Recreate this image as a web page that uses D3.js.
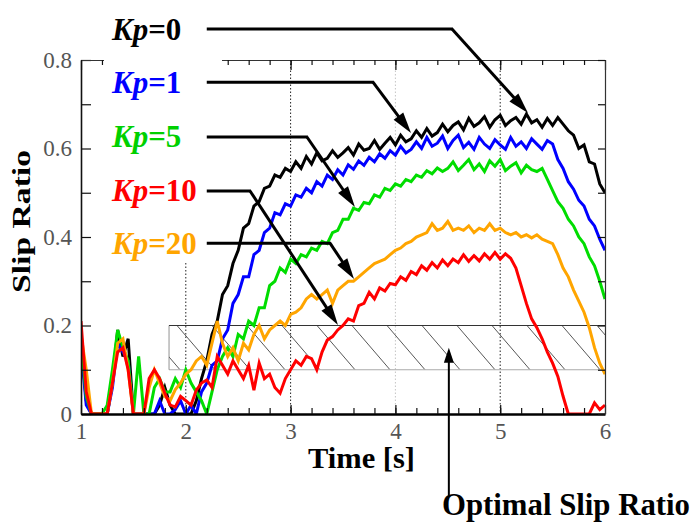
<!DOCTYPE html>
<html>
<head>
<meta charset="utf-8">
<script src="https://cdn.jsdelivr.net/npm/d3@7"></script>
<style>
  html, body { margin: 0; padding: 0; background: #fff; }
  svg { display: block; }
  text { font-family: "Liberation Serif", "Times New Roman", serif; }
</style>
</head>
<body>
<div id="chart"></div>
<script>
// sampling of the recorded slip ratio traces
const timeStart = 1;
const timeStep = 0.05;

const xTicks = [1, 2, 3, 4, 5, 6];
const yTicks = [0, 0.2, 0.4, 0.6, 0.8];
const yMinorTicks = [0.1, 0.3, 0.5, 0.7];
const gridTimes = [2, 3, 4, 5];

// optimal slip band
const bandLow = 0.1;
const bandHigh = 0.2;
const bandStart = 1.84;

const kp0 = [
  0.17, 0.03, 0, 0, 0, 0, 0.07, 0.19, 0.13, 0.17,
  0, 0, 0, 0, 0, 0.02, 0.06, 0.02, 0, 0,
  0, 0, 0.03, 0.08, 0.12, 0.18, 0.21, 0.27, 0.29, 0.34,
  0.37, 0.42, 0.43, 0.47, 0.48, 0.51, 0.515, 0.54, 0.535, 0.555,
  0.548, 0.57, 0.555, 0.582, 0.565, 0.59, 0.572, 0.578, 0.595, 0.58,
  0.59, 0.602, 0.585, 0.61, 0.596, 0.6, 0.618, 0.598, 0.612, 0.625,
  0.608, 0.63, 0.615, 0.622, 0.64, 0.625, 0.645, 0.628, 0.636, 0.655,
  0.638, 0.652, 0.66, 0.642, 0.668, 0.65, 0.658, 0.672, 0.648, 0.665,
  0.675, 0.652, 0.663, 0.67, 0.655, 0.678, 0.658, 0.665, 0.648, 0.668,
  0.652, 0.67, 0.655, 0.64, 0.63, 0.6, 0.608, 0.57, 0.565, 0.52,
  0.50
];
const kp1 = [
  0.15, 0.02, 0, 0, 0, 0, 0.06, 0.16, 0.14, 0.12,
  0, 0, 0, 0, 0, 0.03, 0, 0, 0.01, 0.03,
  0, 0.02, 0, 0.05, 0.07, 0.11, 0.12, 0.17, 0.19, 0.25,
  0.27, 0.31, 0.31, 0.36, 0.37, 0.41, 0.42, 0.455, 0.45, 0.475,
  0.47, 0.495, 0.49, 0.51, 0.5, 0.525, 0.515, 0.54, 0.53, 0.552,
  0.54, 0.563, 0.553, 0.572, 0.562, 0.58, 0.57, 0.588, 0.578, 0.595,
  0.585, 0.605, 0.59, 0.598, 0.615, 0.6, 0.625, 0.605, 0.612, 0.628,
  0.6, 0.618, 0.63, 0.602, 0.614, 0.598, 0.625, 0.61, 0.6, 0.62,
  0.608, 0.598, 0.625, 0.605, 0.615, 0.6, 0.622, 0.61, 0.598, 0.618,
  0.61, 0.575, 0.555, 0.525, 0.508, 0.483, 0.47, 0.44, 0.425, 0.395,
  0.37
];
const kp5 = [
  0.17, 0.04, 0, 0, 0, 0.02, 0.1, 0.19, 0.15, 0.12,
  0, 0.13, 0, 0, 0.06, 0.08, 0.05, 0.05, 0.08, 0.06,
  0.1, 0.07, 0.05, 0.03, 0, 0.05, 0.1, 0.13, 0.15, 0.13,
  0.18, 0.17, 0.21, 0.2, 0.24, 0.24, 0.29, 0.3, 0.33, 0.32,
  0.35, 0.34, 0.36, 0.355, 0.375, 0.37, 0.39, 0.385, 0.41, 0.415,
  0.44, 0.44, 0.465, 0.46, 0.478, 0.475, 0.495, 0.49, 0.51, 0.505,
  0.52, 0.515, 0.53, 0.525, 0.54, 0.535, 0.55, 0.543, 0.556, 0.548,
  0.555, 0.57, 0.55, 0.562, 0.575, 0.552, 0.565, 0.548, 0.572, 0.56,
  0.575, 0.55, 0.56, 0.568, 0.545, 0.562, 0.552, 0.548, 0.555, 0.53,
  0.505, 0.48, 0.465, 0.44, 0.425, 0.4, 0.385, 0.355, 0.335, 0.3,
  0.26
];
const kp10 = [
  0.21, 0.05, 0, 0, 0, 0, 0.07, 0.14, 0.15, 0.1,
  0, 0, 0, 0.08, 0.1, 0.08, 0.047, 0.02, 0.016, 0.04,
  0.03, 0.02, 0.054, 0.07, 0.077, 0.06, 0.13, 0.11, 0.09, 0.12,
  0.1, 0.08, 0.11, 0.054, 0.115, 0.08, 0.09, 0.06, 0.047, 0.08,
  0.1, 0.12, 0.11, 0.13, 0.125, 0.1, 0.14, 0.167, 0.175, 0.19,
  0.2, 0.215, 0.21, 0.245, 0.25, 0.275, 0.26, 0.285, 0.278, 0.295,
  0.292, 0.31, 0.302, 0.322, 0.315, 0.335, 0.325, 0.342, 0.33, 0.348,
  0.335, 0.35, 0.342, 0.36, 0.345, 0.358, 0.346, 0.362, 0.35, 0.365,
  0.35, 0.362, 0.352, 0.33, 0.29, 0.25, 0.215, 0.195, 0.17, 0.14,
  0.115, 0.085, 0.04, 0, 0, 0, 0, 0, 0.025, 0.01,
  0.02
];
const kp20 = [
  0.18, 0.1, 0, 0, 0, 0, 0.07, 0.16, 0.17, 0.1,
  0, 0, 0, 0.06, 0.1, 0.07, 0.04, 0.03, 0.055, 0.07,
  0.09, 0.1, 0.12, 0.13, 0.11, 0.16, 0.21, 0.16, 0.13, 0.15,
  0.12, 0.16, 0.145, 0.18, 0.2, 0.17, 0.19, 0.2, 0.21, 0.2,
  0.225, 0.23, 0.24, 0.26, 0.27, 0.26, 0.27, 0.28, 0.25, 0.28,
  0.29, 0.3, 0.3, 0.31, 0.32, 0.33, 0.34, 0.345, 0.35, 0.36,
  0.37, 0.375, 0.385, 0.39, 0.4, 0.405, 0.41, 0.43, 0.415, 0.42,
  0.435, 0.415, 0.42, 0.415, 0.425, 0.41, 0.42, 0.415, 0.43, 0.415,
  0.42, 0.41, 0.405, 0.41, 0.4, 0.405, 0.398, 0.405, 0.395, 0.39,
  0.385, 0.36, 0.33, 0.31, 0.28, 0.255, 0.23, 0.195, 0.15, 0.115,
  0.09
];

const gains = ['0', '1', '5', '10', '20'];
const seriesColors = ['#000000', '#0000ff', '#00dd00', '#ff0000', '#ffa500'];
const labelColors = ['#000000', '#0000ff', '#00d000', '#ff0000', '#ffa500'];
// leader lines: label level, elbow time, arrow tip (time, slip)
const labelLevels = [0.87, 0.75, 0.626, 0.504, 0.386];
const elbowTimes = [4.54, 3.786, 3.156, 2.613, 3.376];
const tipTimes = [5.265, 4.149, 3.614, 3.452, 3.605];
const tipValues = [0.68, 0.635, 0.468, 0.201, 0.305];
const leaderStart = 2.2;
const optimalArrowTime = 4.51;

const width = 693, height = 527;

const svg = d3.select('#chart').append('svg')
  .attr('width', width)
  .attr('height', height);

const x = d3.scaleLinear().domain([1, 6]).range([81, 605]);
const y = d3.scaleLinear().domain([0, 0.8]).range([414, 60]);

svg.append('defs').append('clipPath').attr('id', 'plotClip')
  .append('rect')
  .attr('x', x(1)).attr('y', y(0.8))
  .attr('width', x(6) - x(1)).attr('height', y(0) - y(0.8));

svg.select('defs').append('clipPath').attr('id', 'bandClip')
  .append('rect')
  .attr('x', x(bandStart)).attr('y', y(bandHigh))
  .attr('width', x(6) - x(bandStart)).attr('height', y(bandLow) - y(bandHigh));

// dotted grid
svg.append('g').selectAll('line')
  .data(gridTimes)
  .enter()
  .append('line')
  .attr('x1', d => x(d)).attr('x2', d => x(d))
  .attr('y1', y(0.8)).attr('y2', y(0))
  .attr('stroke', d => d === 4 ? '#c4c4c4' : '#222')
  .attr('stroke-width', 1)
  .attr('stroke-dasharray', '1.5,2');

// hatched band
const band = svg.append('g');
band.append('g').attr('clip-path', 'url(#bandClip)')
  .selectAll('line')
  .data(d3.range(0, 18))
  .enter()
  .append('line')
  .attr('x1', k => 72 + 35 * k).attr('y1', y(bandHigh))
  .attr('x2', k => 110 + 35 * k).attr('y2', y(bandLow))
  .attr('stroke', '#444')
  .attr('stroke-width', 0.9);
band.append('line')
  .attr('x1', x(bandStart)).attr('x2', x(6))
  .attr('y1', y(bandLow)).attr('y2', y(bandLow))
  .attr('stroke', '#aaa').attr('stroke-width', 1);
band.append('line')
  .attr('x1', x(bandStart)).attr('x2', x(bandStart))
  .attr('y1', y(bandHigh)).attr('y2', y(bandLow))
  .attr('stroke', '#777').attr('stroke-width', 0.8);
band.append('line')
  .attr('x1', x(bandStart)).attr('x2', x(6))
  .attr('y1', y(bandHigh)).attr('y2', y(bandHigh))
  .attr('stroke', '#333').attr('stroke-width', 1);

// traces, red drawn last as in the original
const line = d3.line()
  .x((d, i) => x(timeStart + i * timeStep))
  .y(d => y(d));

const traces = [kp0, kp1, kp5, kp20, kp10];
const traceColors = [seriesColors[0], seriesColors[1], seriesColors[2], seriesColors[4], seriesColors[3]];

svg.append('g').attr('clip-path', 'url(#plotClip)')
  .selectAll('path')
  .data(traces)
  .enter()
  .append('path')
  .attr('d', line)
  .attr('fill', 'none')
  .attr('stroke', (d, i) => traceColors[i])
  .attr('stroke-width', 3)
  .attr('stroke-linejoin', 'miter');

// axes
const styleAxis = function (g, labelled) {
  g.selectAll('.tick line').attr('stroke', '#111').attr('stroke-width', 1.2);
  g.selectAll('.tick text')
    .attr('fill', labelled ? '#555' : 'none')
    .style('font-size', '23px')
    .style('font-family', '"Liberation Serif", serif');
};

const gLeft = svg.append('g').attr('transform', `translate(${x(1)},0)`)
  .call(d3.axisLeft(y).tickValues(yTicks).tickSize(-10).tickSizeOuter(0).tickPadding(9)
    .tickFormat(d => d === 0 ? '0' : d3.format('.1f')(d)));
styleAxis(gLeft, true);
gLeft.select('.domain').attr('stroke', '#111').attr('stroke-width', 1.6);
svg.append('g').attr('transform', `translate(${x(1)},0)`)
  .call(d3.axisLeft(y).tickValues(yMinorTicks).tickSize(-10).tickFormat(''))
  .call(g => g.select('.domain').remove())
  .call(g => styleAxis(g, false));

const gBottom = svg.append('g').attr('transform', `translate(0,${y(0)})`)
  .call(d3.axisBottom(x).tickValues(xTicks).tickSize(-9).tickSizeOuter(0).tickPadding(9)
    .tickFormat(d3.format('d')));
styleAxis(gBottom, true);
svg.append('g').attr('transform', `translate(0,${y(0)})`)
  .call(d3.axisBottom(x).tickValues(d3.range(1.2, 6, 0.2)).tickSize(-6).tickFormat(''))
  .call(g => g.select('.domain').remove())
  .call(g => styleAxis(g, false));
gBottom.select('.domain').attr('stroke', '#000').attr('stroke-width', 2.6);

const gTop = svg.append('g').attr('transform', `translate(0,${y(0.8)})`)
  .call(d3.axisTop(x).tickValues(xTicks).tickSize(-10).tickSizeOuter(0).tickFormat(''));
styleAxis(gTop, false);
gTop.select('.domain').attr('stroke', '#333').attr('stroke-width', 1.2);
svg.append('g').attr('transform', `translate(0,${y(0.8)})`)
  .call(d3.axisTop(x).tickValues(d3.range(1.2, 6, 0.2)).tickSize(-5).tickFormat(''))
  .call(g => g.select('.domain').remove())
  .call(g => styleAxis(g, false));

const gRight = svg.append('g').attr('transform', `translate(${x(6)},0)`)
  .call(d3.axisRight(y).tickValues(yTicks.concat(yMinorTicks)).tickSize(-7).tickSizeOuter(0).tickFormat(''));
styleAxis(gRight, false);
gRight.select('.domain').attr('stroke', '#333').attr('stroke-width', 1.2);

// white panel behind the gain labels
svg.append('rect')
  .attr('x', 104).attr('y', 50)
  .attr('width', 118).attr('height', 212)
  .attr('fill', '#fff');

// arrow helper
const arrowHead = function (g, x1, y1, x2, y2, len, half, sw) {
  const dx = x2 - x1, dy = y2 - y1;
  const l = Math.sqrt(dx * dx + dy * dy);
  const ux = dx / l, uy = dy / l;
  const bx = x2 - ux * len, by = y2 - uy * len;
  g.append('line')
    .attr('x1', x1).attr('y1', y1)
    .attr('x2', bx + ux * 2).attr('y2', by + uy * 2)
    .attr('stroke', '#000').attr('stroke-width', sw);
  g.append('path')
    .attr('d', `M${x2},${y2}L${bx - uy * half},${by + ux * half}L${bx + uy * half},${by - ux * half}Z`)
    .attr('fill', '#000');
};

// leaders
const leaders = svg.append('g');
gains.forEach(function (gain, i) {
  const ly = y(labelLevels[i]);
  const ex = x(elbowTimes[i]);
  leaders.append('line')
    .attr('x1', x(leaderStart)).attr('y1', ly)
    .attr('x2', ex + 1).attr('y2', ly)
    .attr('stroke', '#000').attr('stroke-width', 3);
  arrowHead(leaders, ex, ly, x(tipTimes[i]), y(tipValues[i]), 21, 6, 3);

  const t = leaders.append('text')
    .attr('x', 112)
    .attr('y', ly + 10.5)
    .attr('fill', labelColors[i])
    .style('font-size', '31px')
    .style('font-weight', 'bold');
  t.append('tspan').style('font-style', 'italic').text('Kp');
  t.append('tspan').text('=' + gain);
});

// optimal slip ratio arrow
arrowHead(svg.append('g'), x(optimalArrowTime), 497, x(optimalArrowTime), y((bandLow + bandHigh) / 2), 15, 5, 2);

svg.append('text')
  .attr('x', 442).attr('y', 515)
  .attr('textLength', 248).attr('lengthAdjust', 'spacingAndGlyphs')
  .style('font-size', '31px').style('font-weight', 'bold')
  .text('Optimal Slip Ratio');

// axis titles
svg.append('text')
  .attr('x', 308).attr('y', 468)
  .attr('textLength', 107).attr('lengthAdjust', 'spacingAndGlyphs')
  .style('font-size', '29px').style('font-weight', 'bold')
  .text('Time [s]');

svg.append('text')
  .attr('transform', 'translate(30,221.5) rotate(-90)')
  .attr('text-anchor', 'middle')
  .attr('textLength', 143).attr('lengthAdjust', 'spacingAndGlyphs')
  .style('font-size', '25px').style('font-weight', 'bold')
  .text('Slip Ratio');
</script>
</body>
</html>
